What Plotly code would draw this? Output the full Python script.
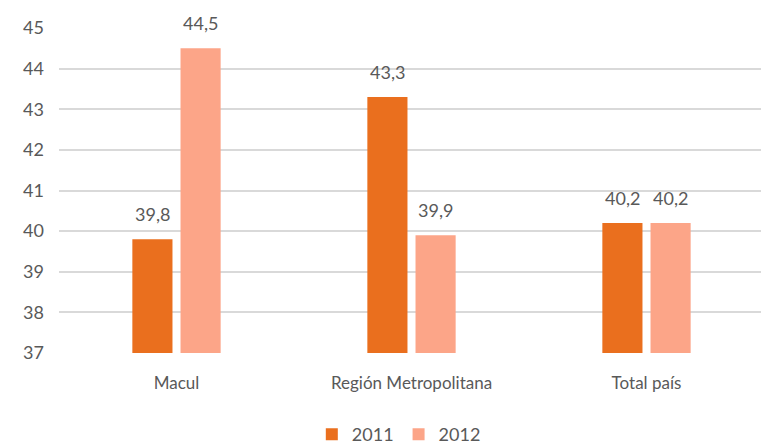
import plotly.graph_objects as go

categories = ["Macul", "Región Metropolitana", "Total país"]
series_names = ["2011", "2012"]
values_2011 = [39.8, 43.3, 40.2]
values_2012 = [44.5, 39.9, 40.2]
tick_vals = [37, 38, 39, 40, 41, 42, 43, 44, 45]

colors = ["#EA6F1E", "#FCA588"]
font_family = "Lato, 'Open Sans', sans-serif"
text_color = "#595959"
label_offsets = [-24, 24]  # pixel offset of each series' label from category centre

fig = go.Figure()
for name, vals, col, off in zip(series_names, [values_2011, values_2012], colors, label_offsets):
    fig.add_trace(go.Bar(
        x=categories, y=[v - 37 for v in vals], base=37, name=name,
        marker=dict(color=col, line=dict(width=0)),
    ))
    for cat, v in zip(categories, vals):
        fig.add_annotation(
            x=cat, y=v, xref="x", yref="y", text=f"{v:.1f}".replace(".", ","),
            showarrow=False, xanchor="center", yanchor="bottom",
            xshift=off, yshift=12,
            font=dict(size=18, color=text_color, family=font_family),
        )

fig.update_layout(
    width=769, height=445,
    margin=dict(l=51, r=13, t=20, b=100, autoexpand=False),
    paper_bgcolor="white", plot_bgcolor="white",
    barmode="group", bargap=0.59, bargroupgap=0.167,
    font=dict(family=font_family, color=text_color, size=18),
    showlegend=True,
    legend=dict(orientation="h", x=0.482, xanchor="center", yref="container",
                y=0.0, yanchor="bottom",
                font=dict(size=18, color=text_color), traceorder="normal",
                itemwidth=30),
    xaxis=dict(showline=False, ticks="", automargin=False,
               tickfont=dict(size=17, color=text_color), ticklabelstandoff=18),
    yaxis=dict(range=[37, 45], tickvals=tick_vals, showgrid=True, gridcolor="#D9D9D9",
               gridwidth=2, zeroline=False, showline=False, ticks="", automargin=False,
               tickfont=dict(size=18, color=text_color), ticklabelstandoff=14),
)

fig.write_html("out.html")
